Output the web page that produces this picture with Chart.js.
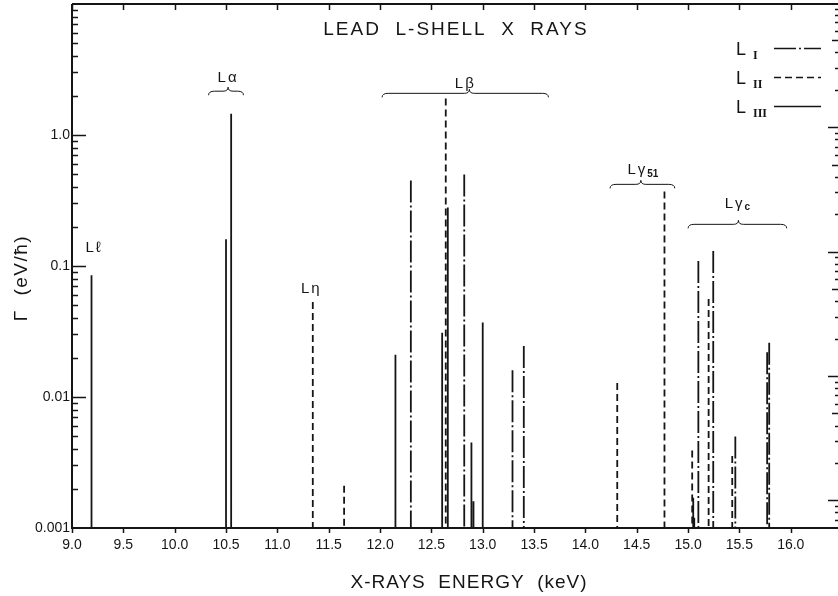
<!DOCTYPE html>
<html>
<head>
<meta charset="utf-8">
<script src="https://cdn.jsdelivr.net/npm/chart.js@4.4.1/dist/chart.umd.min.js"></script>
<style>
  html, body { margin: 0; padding: 0; background: #fff; }
  canvas { display: block; }
</style>
</head>
<body>
<canvas id="chart" width="838" height="596"></canvas>
<script>
// Lead L-shell X-ray lines: natural width Γ (eV/ħ) against line energy (keV),
// grouped by the subshell that holds the initial vacancy.
const liEnergy   = [12.30, 12.82, 13.29, 13.40, 15.10, 15.245, 15.46, 15.77, 15.79];
const liGamma    = [0.45, 0.50, 0.016, 0.0245, 0.109, 0.13, 0.0050, 0.022, 0.026];

const liiEnergy  = [11.345, 11.65, 12.64, 14.31, 14.77, 15.04, 15.20, 15.43];
const liiGamma   = [0.053, 0.0021, 1.9, 0.0128, 0.37, 0.0039, 0.056, 0.00355];

const liiiEnergy = [9.19, 10.50, 10.55, 12.15, 12.605, 12.66, 12.89, 12.91, 13.00, 15.05, 15.06];
const liiiGamma  = [0.085, 0.16, 1.45, 0.021, 0.031, 0.28, 0.0045, 0.0016, 0.037, 0.0017, 0.0012];

// Axis ranges and labels
const X_MIN = 9.0, X_MAX = 16.46;
const Y_MIN = 0.001, Y_MAX = 10;
const xTickValues = [9.0, 9.5, 10.0, 10.5, 11.0, 11.5, 12.0, 12.5, 13.0, 13.5, 14.0, 14.5, 15.0, 15.5, 16.0];
const yTickValues = [0.001, 0.01, 0.1, 1];
const yTickLabels = ['0.001', '0.01', '0.1', '1.0'];

// Line groups over the spectrum: [label, subscript, label energy, label Γ, brace from, brace to, brace Γ, cusp energy]
const groupLabels = [
  ['L\u2113', '',   9.215, 0.137, null,  null,  null,  null],
  ['L\u03B1', '',   10.52, 2.75,  10.33, 10.67, 2.16,  10.52],
  ['L\u03B2', '',   12.83, 2.45,  12.02, 13.64, 2.08,  12.87],
  ['L\u03B3', '51', 14.56, 0.54,  14.24, 14.87, 0.42,  14.54],
  ['L\u03B7', '',   11.33, 0.067, null,  null,  null,  null],
  ['L\u03B3', 'c',  15.48, 0.30,  15.00, 15.96, 0.208, 15.49]
];

const INK = '#151515';
const FONT = '"Liberation Sans", "DejaVu Sans", sans-serif';
const DASH_LI  = [22, 3, 2, 3];
const DASH_LII = [7, 4];

// Each emission line becomes a vertical stick from its width down to the axis floor.
function sticks(energy, gamma) {
  const pts = [];
  energy.forEach((e, i) => {
    pts.push({ x: e, y: gamma[i] }, { x: e, y: Y_MIN }, { x: e, y: null });
  });
  return pts;
}

function lineSet(label, energy, gamma, dash) {
  return {
    label,
    data: sticks(energy, gamma),
    borderColor: INK,
    borderWidth: 1.8,
    borderDash: dash,
    pointRadius: 0,
    spanGaps: false,
    tension: 0,
    fill: false
  };
}

function drawBrace(ctx, x1, x2, y, cx) {
  const h = 4;
  ctx.beginPath();
  ctx.moveTo(x1, y + h);
  ctx.quadraticCurveTo(x1, y, x1 + 6, y);
  ctx.lineTo(cx - 5, y);
  ctx.quadraticCurveTo(cx, y, cx, y - h);
  ctx.quadraticCurveTo(cx, y, cx + 5, y);
  ctx.lineTo(x2 - 6, y);
  ctx.quadraticCurveTo(x2, y, x2, y + h);
  ctx.stroke();
}

const decorations = {
  id: 'decorations',
  afterDraw(chart) {
    const { ctx, chartArea: a, scales: { x, y, y2 } } = chart;
    ctx.save();
    ctx.strokeStyle = INK;
    ctx.fillStyle = INK;

    // Frame: left, top and bottom
    ctx.lineWidth = 2;
    ctx.setLineDash([]);
    ctx.beginPath();
    ctx.moveTo(a.left, a.top);
    ctx.lineTo(a.right, a.top);
    ctx.moveTo(a.left, a.top);
    ctx.lineTo(a.left, a.bottom);
    ctx.lineTo(a.right, a.bottom);
    ctx.stroke();

    // Energy ticks: inward on the top edge, outward below the axis
    ctx.lineWidth = 1.5;
    ctx.beginPath();
    xTickValues.forEach(v => {
      const px = Math.round(x.getPixelForValue(v)) + 0.5;
      ctx.moveTo(px, a.top);
      ctx.lineTo(px, a.top + 6);
      ctx.moveTo(px, a.bottom);
      ctx.lineTo(px, a.bottom + 5);
    });
    ctx.stroke();

    // Logarithmic ticks, pointing inward on both sides
    function logTicks(scale, xEdge, dir, major, mid, minor) {
      ctx.beginPath();
      for (let d = 1e-4; d <= 10; d *= 10) {
        for (let k = 1; k <= 9; k++) {
          const v = k * d;
          if (v < scale.min * 1.0001 || v > scale.max * 0.9999) continue;
          const py = Math.round(scale.getPixelForValue(v)) + 0.5;
          const len = k === 1 ? major : (k === 5 ? mid : minor);
          ctx.moveTo(xEdge, py);
          ctx.lineTo(xEdge + dir * len, py);
        }
      }
      ctx.stroke();
    }
    logTicks(y, a.left, 1, 14, 6, 6);
    logTicks(y2, a.right, -1, 10, 6, 3);

    // Title
    ctx.textAlign = 'center';
    ctx.textBaseline = 'alphabetic';
    ctx.font = '19px ' + FONT;
    ctx.letterSpacing = '2px';
    ctx.fillText('LEAD  L-SHELL  X  RAYS', 456, 35);

    // Axis titles
    ctx.letterSpacing = '1px';
    ctx.fillText('X-RAYS  ENERGY  (keV)', 469, 588);
    ctx.save();
    ctx.translate(27, 278);
    ctx.rotate(-Math.PI / 2);
    ctx.letterSpacing = '1.5px';
    ctx.fillText('\u0393  (eV/\u0127)', 0, 0);
    ctx.restore();

    // Group labels and braces
    ctx.lineWidth = 1;
    groupLabels.forEach(([text, sub, le, lg, b1, b2, bg, bc]) => {
      const px = x.getPixelForValue(le);
      const py = y.getPixelForValue(lg);
      ctx.font = '15px ' + FONT;
      ctx.letterSpacing = '2px';
      ctx.textBaseline = 'middle';
      const w = ctx.measureText(text).width;
      ctx.font = 'bold 10px ' + FONT;
      ctx.letterSpacing = '0px';
      const subW = sub ? ctx.measureText(sub).width : 0;
      const left = px - (w + subW) / 2;
      ctx.textAlign = 'left';
      ctx.font = '15px ' + FONT;
      ctx.letterSpacing = '2px';
      ctx.fillText(text, left, py);
      if (sub) {
        ctx.font = 'bold 10px ' + FONT;
        ctx.letterSpacing = '0px';
        ctx.fillText(sub, left + w, py + 4);
      }
      if (b1 !== null) {
        drawBrace(ctx, x.getPixelForValue(b1), x.getPixelForValue(b2),
                  y.getPixelForValue(bg), x.getPixelForValue(bc));
      }
    });

    // Legend: vacancy subshell and its line style
    const legendRows = [['I', DASH_LI, 48], ['II', DASH_LII, 77], ['III', [], 106]];
    ctx.letterSpacing = '0px';
    legendRows.forEach(([num, dash, ly]) => {
      ctx.font = '18px ' + FONT;
      ctx.textAlign = 'left';
      ctx.textBaseline = 'alphabetic';
      ctx.fillText('L', 736, ly + 7);
      ctx.font = 'bold 12px "Liberation Serif", serif';
      ctx.fillText(num, 753, ly + 11);
      ctx.setLineDash(dash);
      ctx.lineWidth = 1.6;
      ctx.beginPath();
      ctx.moveTo(774, ly + 0.5);
      ctx.lineTo(821, ly + 0.5);
      ctx.stroke();
    });
    ctx.setLineDash([]);
    ctx.restore();
  }
};

new Chart(document.getElementById('chart'), {
  type: 'line',
  data: {
    datasets: [
      lineSet('L III', liiiEnergy, liiiGamma, []),
      lineSet('L II', liiEnergy, liiGamma, DASH_LII),
      lineSet('L I', liEnergy, liGamma, DASH_LI)
    ]
  },
  options: {
    responsive: false,
    animation: false,
    devicePixelRatio: 1,
    layout: { padding: { top: 4, right: 0, bottom: 0, left: 0 } },
    plugins: { legend: { display: false }, tooltip: { enabled: false } },
    scales: {
      x: {
        type: 'linear',
        min: X_MIN,
        max: X_MAX,
        grid: { display: false, drawTicks: false },
        border: { display: false },
        afterBuildTicks: s => { s.ticks = xTickValues.map(v => ({ value: v })); },
        afterFit: s => { s.height = 68; s.paddingLeft = 0; s.paddingRight = 0; },
        ticks: {
          autoSkip: false,
          maxRotation: 0,
          padding: 9,
          color: INK,
          font: { family: FONT, size: 14 },
          callback: v => Number(v).toFixed(1)
        }
      },
      y: {
        type: 'logarithmic',
        min: Y_MIN,
        max: Y_MAX,
        grid: { display: false, drawTicks: false },
        border: { display: false },
        afterBuildTicks: s => { s.ticks = yTickValues.map(v => ({ value: v })); },
        afterFit: s => { s.width = 72; s.paddingTop = 0; s.paddingBottom = 0; },
        ticks: {
          padding: 2,
          color: INK,
          font: { family: FONT, size: 14 },
          callback: v => yTickLabels[yTickValues.indexOf(v)]
        }
      },
      y2: {
        type: 'logarithmic',
        position: 'right',
        display: false,
        min: 0.00063,
        max: 9.8
      }
    }
  },
  plugins: [decorations]
});
</script>
</body>
</html>
